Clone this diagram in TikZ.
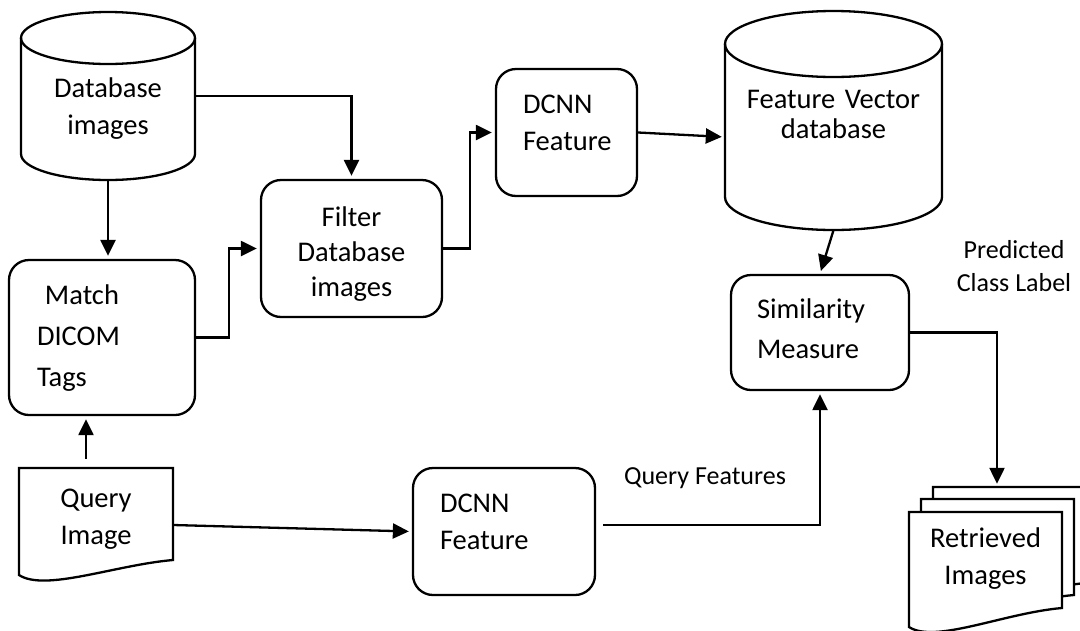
\documentclass[tikz,border=0pt]{standalone}
\usepackage{fontspec}
\setmainfont{Carlito}
\usetikzlibrary{positioning,arrows.meta,calc,backgrounds}

\newcommand{\blkfont}{\fontsize{28.5}{37}\selectfont}
\newcommand{\lblfont}{\fontsize{26}{33}\selectfont}

% drum outline round a node: half width, rim offset, rim radius
\newcommand{\drum}[4]{%
  \draw[outline] ([shift={(-#2,-#3)}]#1.center) -- ([shift={(-#2,#3)}]#1.center)
    arc[start angle=180, end angle=360, x radius=#2pt, y radius=#4pt]
    -- ([shift={(#2,-#3)}]#1.center);
  \draw[outline] ([yshift=#3pt]#1.center) ellipse[x radius=#2pt, y radius=#4pt];}

% paper sheet with a wavy foot: half width, top, right foot, left foot
\newcommand{\sheet}[5]{%
  \draw[outline, fill=white] ([shift={(-#2,#3)}]#1) -- ([shift={(#2,#3)}]#1) -- ([shift={(#2,#4)}]#1)
    .. controls ([shift={(#2-58,#4+5)}]#1) and ([shift={(-#2+26,#5+17)}]#1) .. ([shift={(-#2,#5)}]#1) -- cycle;}

\begin{document}
\begin{tikzpicture}[x=1pt, y=-1pt,
    blk/.style={draw, line width=2.3pt, rounded corners=20pt, align=left, font=\blkfont,
                text height=20pt},
    store/.style={align=center, font=\blkfont, text height=20pt},
    lbl/.style={align=center, font=\lblfont},
    outline/.style={line width=2.3pt},
    arr/.style={-{Triangle[length=16pt, width=15pt]}, line width=2.3pt, shorten >=3pt}
  ]
  \useasboundingbox (0,0) rectangle (1080,630);

  % Left column: stores and tag matching.
  \node[store, minimum width=174pt, minimum height=168pt, text width=150pt, text depth=18pt]
    (dbimg) at (108,96) {Database\\images};
  \node[blk, minimum width=186pt, minimum height=155pt, text width=130pt, text depth=87pt]
    (match) at (102,337.5) {\hspace*{8pt}Match\\[4pt]DICOM\\[4pt]Tags};
  \node[store, minimum width=154pt, minimum height=114pt, text width=120pt, text depth=56pt]
    (query) at (96,525) {Query\\Image};

  % Middle: filtering and features.
  \node[blk, align=center, minimum width=181pt, minimum height=137pt, text width=120pt,
        text depth=65pt, font=\fontsize{28.5}{35}\selectfont]
    (filter) at (351.5,248.5) {Filter\\Database\\images};
  \node[blk, minimum width=141pt, minimum height=127pt, text width=87pt, text depth=59pt]
    (dcnna) at (566.5,132.5) {DCNN\\Feature};
  \node[blk, minimum width=182pt, minimum height=127pt, text width=128pt, text depth=59pt]
    (dcnnb) at (504,531.5) {DCNN\\Feature};

  % Right: feature store, matching and output.
  \node[store, minimum width=217pt, minimum height=219pt, text width=190pt, text depth=45pt,
        font=\fontsize{28.5}{30}\selectfont]
    (fvdb) at (833.5,120.5) {Feature Vector\\database};
  \node[blk, minimum width=178pt, minimum height=115pt, text width=126pt, text depth=49pt]
    (simil) at (820,332.5) {Similarity\\[3pt]Measure};
  \node[store, minimum width=153pt, minimum height=96pt, text width=120pt, text depth=46pt]
    (retr) at (985.5,560) {Retrieved\\Images};

  \node[lbl] (qfeat) at (705,478) {Query Features};
  \node[lbl] (predlbl) at (1014,266) {Predicted\\Class Label};

  \coordinate (retrb) at ([shift={(24,-25)}]retr.center);
  \coordinate (retrm) at ([shift={(12,-13)}]retr.center);
  \coordinate (qtop) at ([shift={(-10,-9)}]query.north);

  \begin{pgfonlayer}{background}
    \drum{dbimg}{87}{58}{26}
    \drum{fvdb}{108.5}{76.5}{33}
    \sheet{query.center}{77}{-57}{35}{50}
    \sheet{retrb}{76.5}{-48}{48}{67}
    \sheet{retrm}{76.5}{-48}{48}{67}
    \sheet{retr.center}{76.5}{-48}{48}{67}
  \end{pgfonlayer}

  \draw[arr] (dbimg.east) -| (filter.north);
  \draw[arr] (dbimg.south) -- (dbimg.south |- match.north);
  \draw[arr] (match.east) -- ++(33,0) |- (filter.west);
  \draw[arr] (filter.east) -- ++(27,0) |- (dcnna.west);
  \draw[arr] (dcnna.east) -- ([yshift=-16.5pt]fvdb.west);
  \draw[arr] (fvdb.south) -- (simil.north);
  \draw[arr] (simil.east) -| ([shift={(11.5,-25)}]retr.north);
  \draw[arr] (qtop) -- (qtop |- match.south);
  \draw[arr] (query.east) -- (dcnnb.west);
  \draw[arr] ([shift={(7,-6.5)}]dcnnb.east) -| (simil.south);
\end{tikzpicture}
\end{document}
